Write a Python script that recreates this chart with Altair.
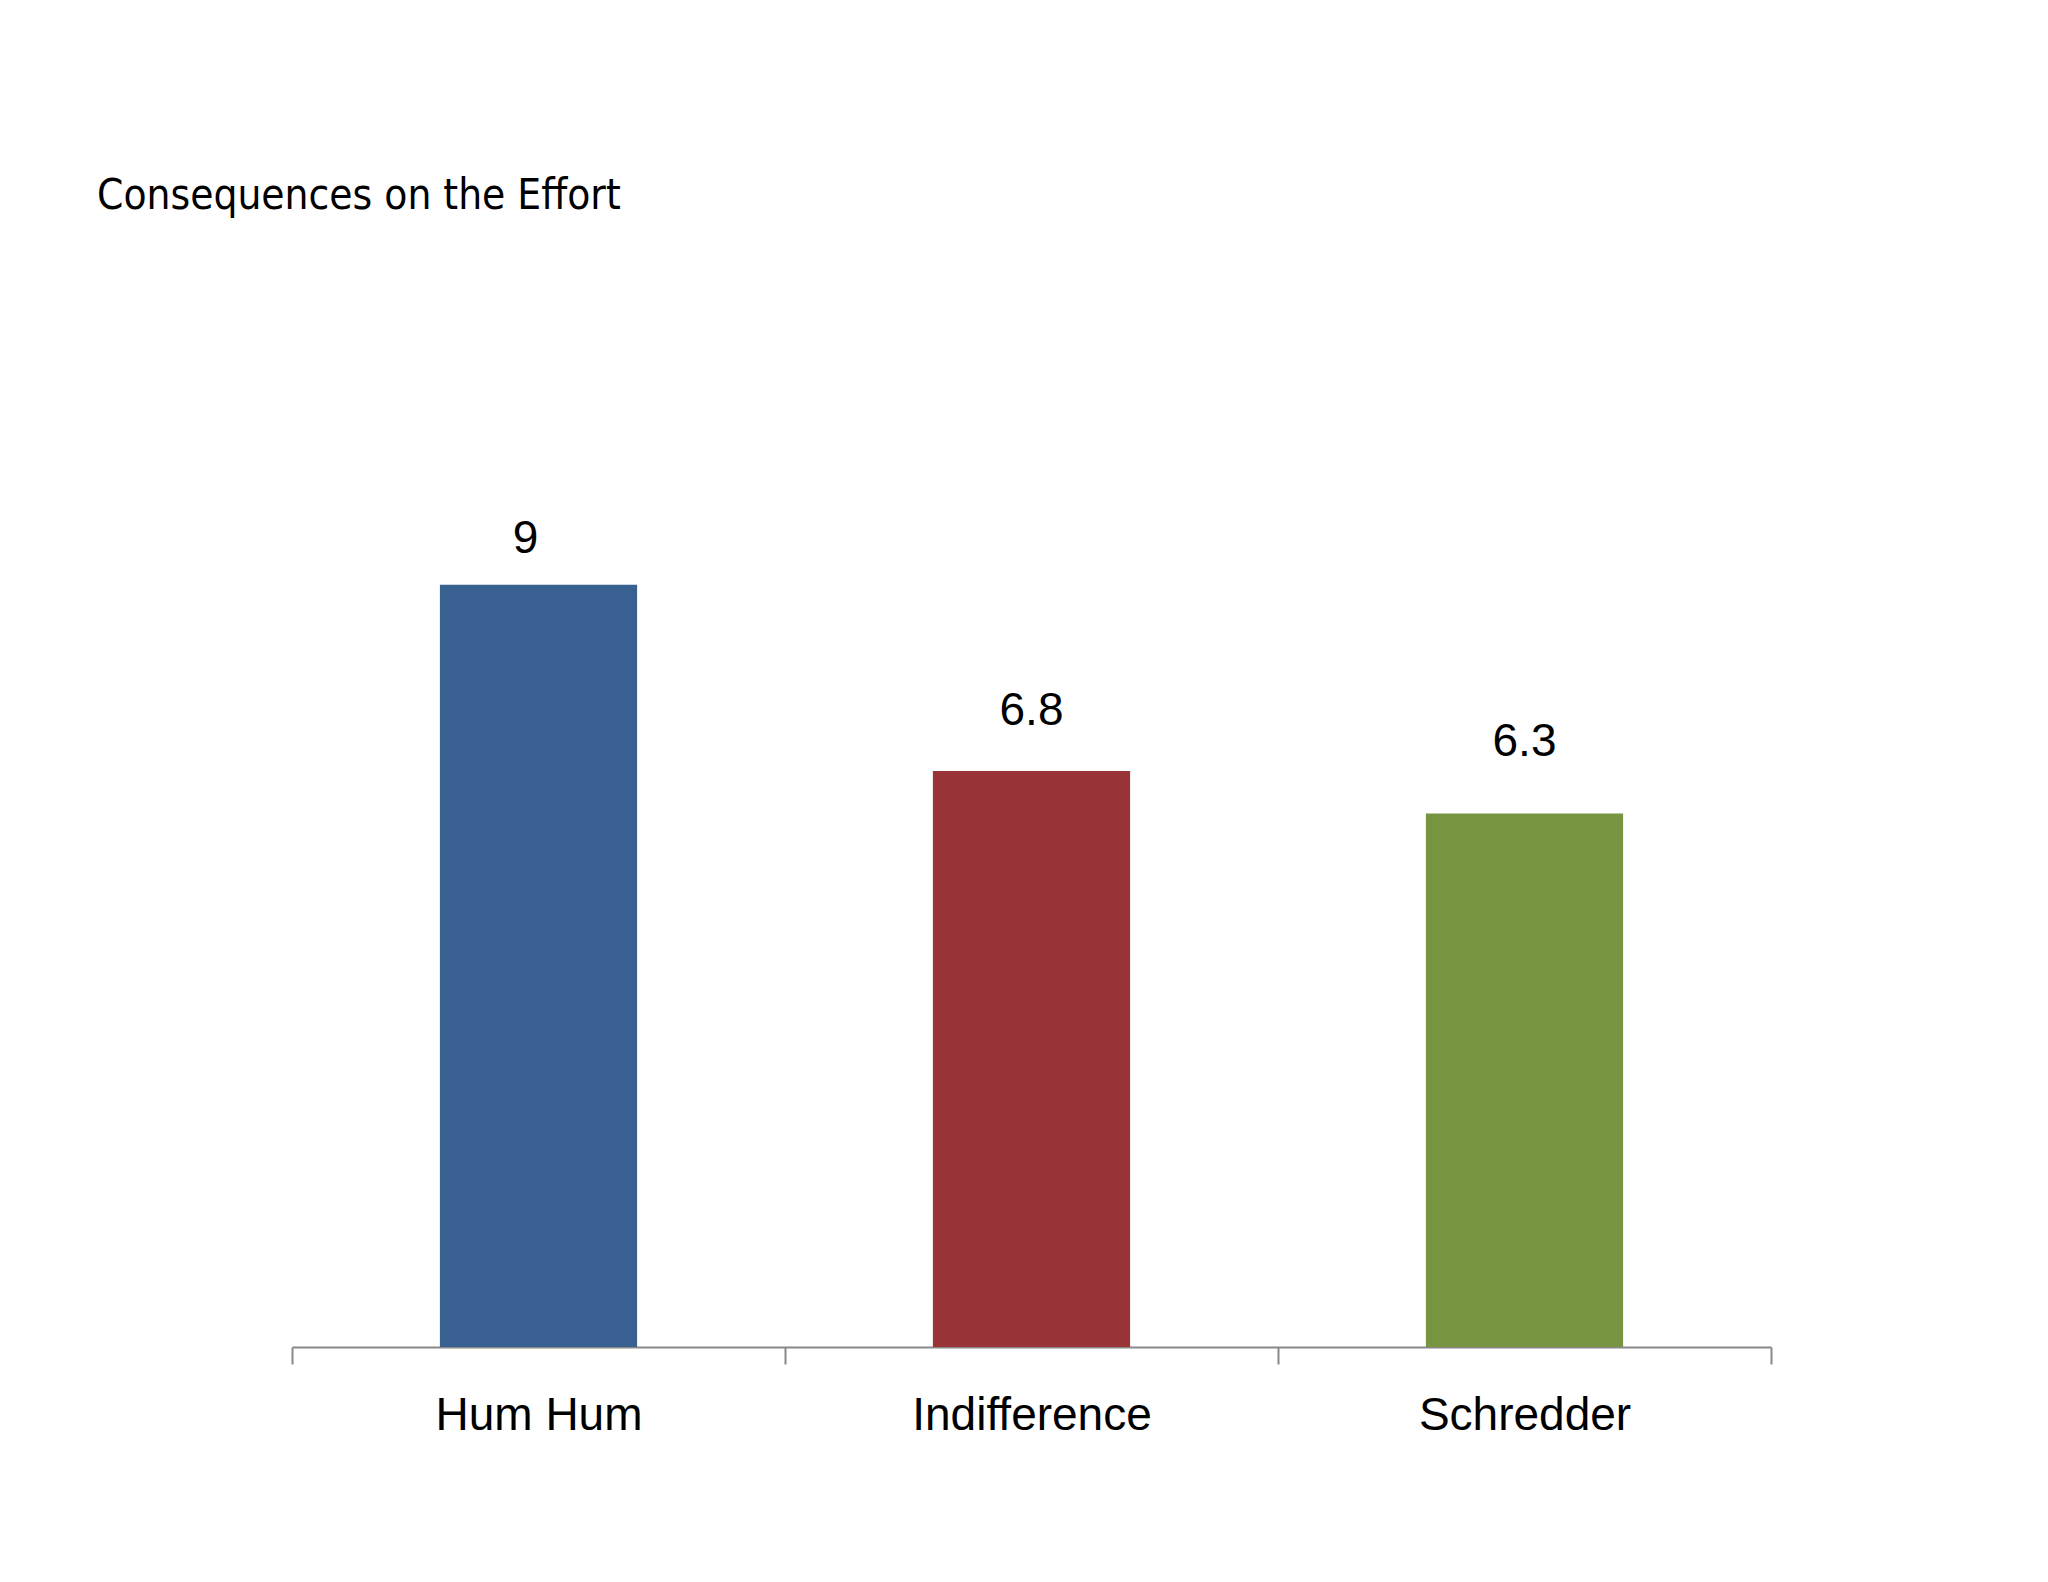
import altair as alt
import pandas as pd

categories = ["Hum Hum", "Indifference", "Schredder"]
values = [9, 6.8, 6.3]
labels = ["9", "6.8", "6.3"]
colors = ["#386192", "#983337", "#779440"]

df = pd.DataFrame({"category": categories, "value": values, "label": labels})

x = alt.X(
    "category:N",
    sort=categories,
    title=None,
    scale=alt.Scale(paddingInner=0, paddingOuter=0),
    axis=alt.Axis(
        tickBand="extent",
        tickSize=17,
        tickColor="#888888",
        tickWidth=2,
        domainColor="#888888",
        domainWidth=2,
        labelAngle=0,
        labelFont="Liberation Sans",
        labelFontSize=46,
        labelColor="#000000",
        labelPadding=29,
        labelLimit=1000,
        grid=False,
    ),
)
y = alt.Y("value:Q", scale=alt.Scale(domain=[0, 10]), axis=None)

bars = alt.Chart(df).mark_bar(width=alt.RelativeBandSize(0.4)).encode(
    x=x,
    y=y,
    color=alt.Color("category:N", scale=alt.Scale(domain=categories, range=colors), legend=None),
)

# label offsets above each bar (as placed in the original chart)
label_dy = [-32, -46, -57]
label_dx = [-13, 0, 0]

text_layers = []
for cat, ddy, ddx in zip(categories, label_dy, label_dx):
    text_layers.append(
        alt.Chart(df)
        .transform_filter(alt.datum.category == cat)
        .mark_text(
            baseline="alphabetic", dy=ddy, dx=ddx,
            font="Liberation Sans", fontSize=46, color="#000000",
        )
        .encode(x=x, y=y, text="label:N")
    )

chart = (
    alt.layer(bars, *text_layers)
    .properties(
        width=1479,
        height=847,
        background="#ffffff",
        title=alt.Title(
            "Consequences on the Effort",
            anchor="start",
            frame="group",
            dx=-195,
            offset=249,
            baseline="alphabetic",
            font="DejaVu Sans Condensed, Liberation Sans",
            fontSize=42,
            fontWeight="normal",
            color="#000000",
        ),
        autosize=alt.AutoSizeParams(type="none"),
        padding={"left": 284, "top": 492, "right": 200, "bottom": 200},
    )
    .configure_view(strokeWidth=0, stroke="transparent")
)

chart.save("out.html", embed_options={"renderer": "svg", "actions": False})
